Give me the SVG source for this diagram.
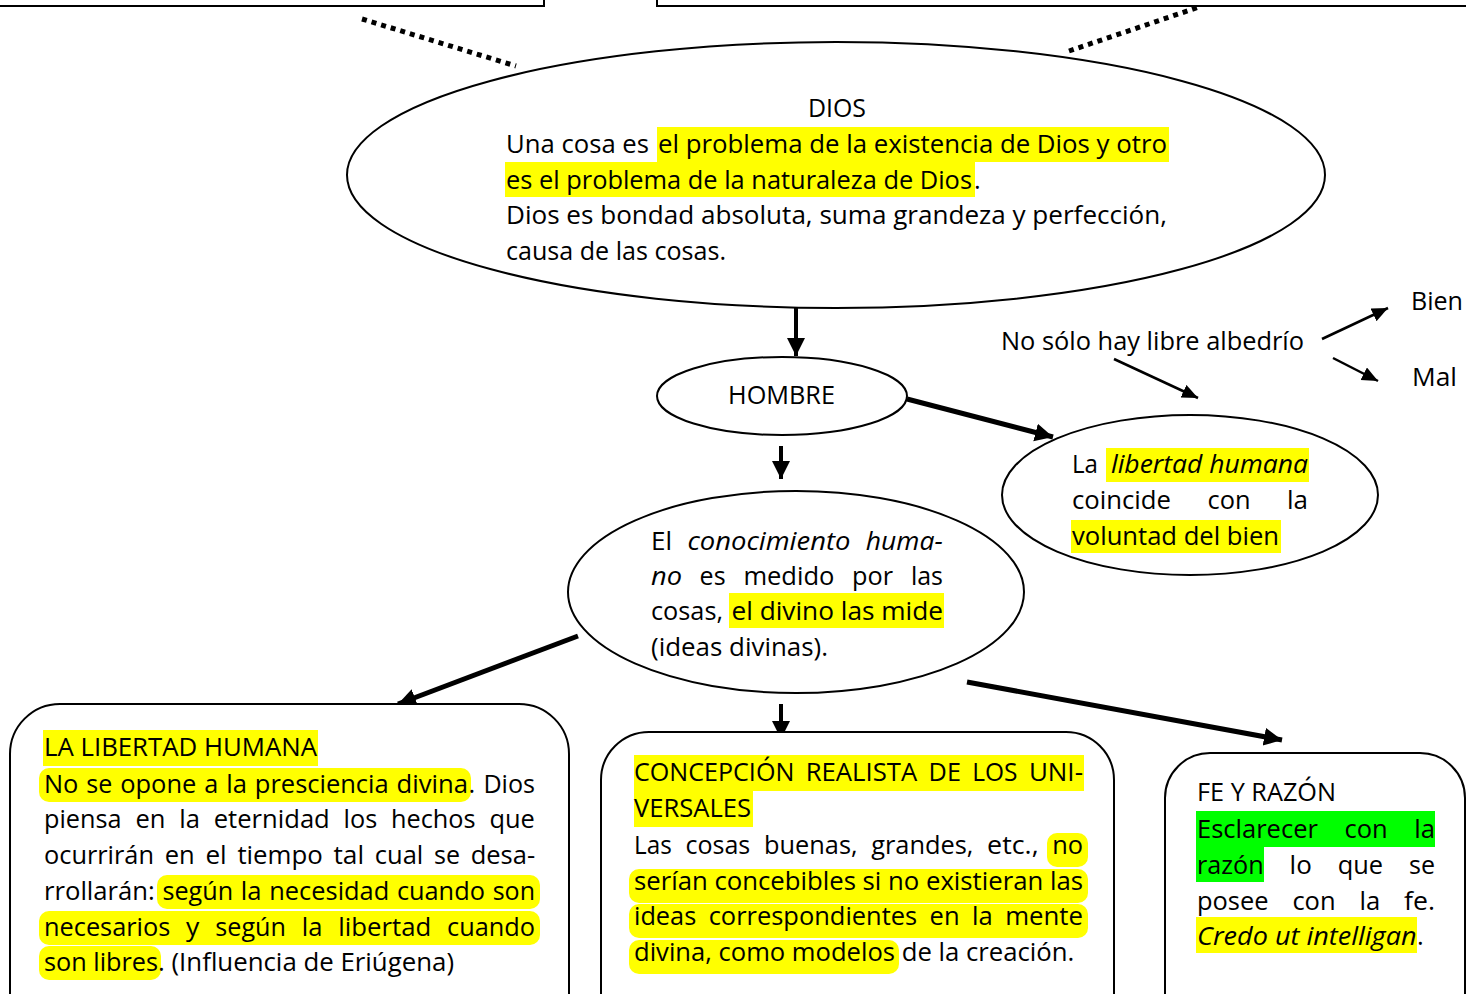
<svg xmlns="http://www.w3.org/2000/svg" width="1466" height="994" viewBox="0 0 1466 994">
<style>
.t{font-family:'Open Sans','Noto Sans',sans-serif;font-size:25.5px;fill:#000}
.i{font-style:italic}
.shape{fill:#fff;stroke:#000;stroke-width:2}
.hy{fill:#ffff00}
.hg{fill:#00ff00}
.thick{stroke:#000;stroke-width:5;fill:none}
.mid{stroke:#000;stroke-width:4;fill:none}
.thin{stroke:#000;stroke-width:2.5;fill:none}
.dots{stroke:#000;stroke-width:5;stroke-dasharray:5 5;fill:none}
</style>
<defs>
<marker id="ah" markerUnits="userSpaceOnUse" markerWidth="20" markerHeight="20" refX="18" refY="9" orient="auto"><path d="M0,0 L18,9 L0,18 z" fill="#000"/></marker>
<marker id="ahs" markerUnits="userSpaceOnUse" markerWidth="18" markerHeight="16" refX="16" refY="7" orient="auto"><path d="M0,0 L16,7 L0,14 z" fill="#000"/></marker>
</defs>
<rect width="1466" height="994" fill="#fff"/>

<g id="top-left-box"><rect class="shape" x="-5" y="-60" width="549" height="66"/></g>
<g id="top-right-box"><rect class="shape" x="657" y="-60" width="820" height="66"/></g>

<g id="connectors">
<line class="dots" x1="362" y1="19" x2="516" y2="66"/>
<line class="dots" x1="1069" y1="51" x2="1199" y2="7"/>
<line class="mid" x1="796" y1="308" x2="796" y2="356" marker-end="url(#ah)"/>
<line class="thick" x1="907" y1="399" x2="1053" y2="437" marker-end="url(#ah)"/>
<line class="mid" x1="781" y1="446" x2="781" y2="479" marker-end="url(#ah)"/>
<line class="thin" x1="1114" y1="359" x2="1198" y2="398" marker-end="url(#ahs)"/>
<line class="thin" x1="1322" y1="339" x2="1388" y2="308" marker-end="url(#ahs)"/>
<line class="thin" x1="1333" y1="358" x2="1378" y2="381" marker-end="url(#ahs)"/>
<line class="thick" x1="578" y1="636" x2="398" y2="704" marker-end="url(#ah)"/>
<line class="mid" x1="781" y1="704" x2="781" y2="739" marker-end="url(#ah)"/>
<line class="thick" x1="967" y1="682" x2="1282" y2="740" marker-end="url(#ah)"/>
</g>

<g id="dios">
<ellipse class="shape" cx="836" cy="175" rx="489" ry="133"/>
<rect class="hy" x="657" y="127" width="512" height="35"/>
<rect class="hy" x="505" y="162" width="470" height="35"/>
<text class="t" x="808" y="117" textLength="58" lengthAdjust="spacingAndGlyphs">DIOS</text>
<text class="t" x="506" y="153" textLength="143" lengthAdjust="spacingAndGlyphs">Una cosa es</text>
<text class="t" x="658" y="153" textLength="509" lengthAdjust="spacingAndGlyphs">el problema de la existencia de Dios y otro</text>
<text class="t" x="506" y="189" textLength="466" lengthAdjust="spacingAndGlyphs">es el problema de la naturaleza de Dios</text>
<text class="t" x="974" y="189">.</text>
<text class="t" x="506" y="224" textLength="661" lengthAdjust="spacingAndGlyphs">Dios es bondad absoluta, suma grandeza y perfección,</text>
<text class="t" x="506" y="260" textLength="220" lengthAdjust="spacingAndGlyphs">causa de las cosas.</text>
</g>

<g id="hombre">
<ellipse class="shape" cx="782" cy="396" rx="125" ry="39"/>
<text class="t" x="728" y="404" textLength="107" lengthAdjust="spacingAndGlyphs">HOMBRE</text>
</g>

<g id="albedrio">
<text class="t" x="1001" y="350" textLength="303" lengthAdjust="spacingAndGlyphs">No sólo hay libre albedrío</text>
</g>
<g id="bien"><text class="t" x="1411" y="310" textLength="52" lengthAdjust="spacingAndGlyphs">Bien</text></g>
<g id="mal"><text class="t" x="1412" y="386" textLength="45" lengthAdjust="spacingAndGlyphs">Mal</text></g>

<g id="libertad">
<ellipse class="shape" cx="1190" cy="495" rx="188" ry="80"/>
<rect class="hy" x="1106" y="448" width="203" height="34"/>
<rect class="hy" x="1071" y="520" width="210" height="33"/>
<text class="t" x="1072" y="473" textLength="26" lengthAdjust="spacingAndGlyphs">La</text>
<text class="t i" x="1111" y="473" textLength="197" lengthAdjust="spacingAndGlyphs">libertad humana</text>
<text class="t" x="1072" y="509" textLength="99" lengthAdjust="spacingAndGlyphs">coincide</text>
<text class="t" x="1207.5" y="509" textLength="43" lengthAdjust="spacingAndGlyphs">con</text>
<text class="t" x="1287" y="509" textLength="21" lengthAdjust="spacingAndGlyphs">la</text>
<text class="t" x="1072" y="545" textLength="207" lengthAdjust="spacingAndGlyphs">voluntad del bien</text>
</g>

<g id="conocimiento">
<ellipse class="shape" cx="796" cy="592" rx="228" ry="101"/>
<rect class="hy" x="729" y="593" width="215" height="35"/>
<text class="t" x="651" y="550" textLength="21" lengthAdjust="spacingAndGlyphs">El</text>
<text class="t i" x="687.4" y="550" textLength="163" lengthAdjust="spacingAndGlyphs">conocimiento</text>
<text class="t i" x="865.8" y="550" textLength="77" lengthAdjust="spacingAndGlyphs">huma-</text>
<text class="t i" x="651" y="585" textLength="31" lengthAdjust="spacingAndGlyphs">no</text>
<text class="t" x="699.6" y="585" textLength="26" lengthAdjust="spacingAndGlyphs">es</text>
<text class="t" x="743.4" y="585" textLength="91" lengthAdjust="spacingAndGlyphs">medido</text>
<text class="t" x="852.1" y="585" textLength="41" lengthAdjust="spacingAndGlyphs">por</text>
<text class="t" x="910.9" y="585" textLength="32" lengthAdjust="spacingAndGlyphs">las</text>
<text class="t" x="651" y="620" textLength="72" lengthAdjust="spacingAndGlyphs">cosas,</text>
<text class="t" x="731.5" y="620" textLength="211.5" lengthAdjust="spacingAndGlyphs">el divino las mide</text>
<text class="t" x="651" y="656" textLength="177" lengthAdjust="spacingAndGlyphs">(ideas divinas).</text>
</g>

<g id="box-libertad-humana">
<rect class="shape" x="10" y="704" width="559" height="340" rx="50"/>
<rect class="hy" x="43" y="730" width="275" height="36"/>
<rect class="hy" x="39" y="768" width="432" height="34" rx="10"/>
<rect class="hy" x="157" y="875" width="383" height="34" rx="10"/>
<rect class="hy" x="39" y="911" width="501" height="34" rx="10"/>
<rect class="hy" x="39" y="946" width="122" height="34" rx="10"/>
<text class="t" x="44" y="756" textLength="273" lengthAdjust="spacingAndGlyphs">LA LIBERTAD HUMANA</text>
<text class="t" x="44" y="793" textLength="34.4" lengthAdjust="spacingAndGlyphs">No</text>
<text class="t" x="86.3" y="793" textLength="26" lengthAdjust="spacingAndGlyphs">se</text>
<text class="t" x="120.2" y="793" textLength="76.2" lengthAdjust="spacingAndGlyphs">opone</text>
<text class="t" x="204.3" y="793" textLength="14" lengthAdjust="spacingAndGlyphs">a</text>
<text class="t" x="226.2" y="793" textLength="20.7" lengthAdjust="spacingAndGlyphs">la</text>
<text class="t" x="254.8" y="793" textLength="133.9" lengthAdjust="spacingAndGlyphs">presciencia</text>
<text class="t" x="396.6" y="793" textLength="71.5" lengthAdjust="spacingAndGlyphs">divina</text>
<text class="t" x="468.5" y="793">.</text>
<text class="t" x="483.4" y="793" textLength="51.6" lengthAdjust="spacingAndGlyphs">Dios</text>
<text class="t" x="44" y="828" textLength="77.6" lengthAdjust="spacingAndGlyphs">piensa</text>
<text class="t" x="135.4" y="828" textLength="30" lengthAdjust="spacingAndGlyphs">en</text>
<text class="t" x="179.2" y="828" textLength="20.7" lengthAdjust="spacingAndGlyphs">la</text>
<text class="t" x="213.7" y="828" textLength="116.1" lengthAdjust="spacingAndGlyphs">eternidad</text>
<text class="t" x="343.6" y="828" textLength="33.6" lengthAdjust="spacingAndGlyphs">los</text>
<text class="t" x="391" y="828" textLength="84.6" lengthAdjust="spacingAndGlyphs">hechos</text>
<text class="t" x="489.4" y="828" textLength="45.4" lengthAdjust="spacingAndGlyphs">que</text>
<text class="t" x="44" y="864" textLength="110" lengthAdjust="spacingAndGlyphs">ocurrirán</text>
<text class="t" x="164.7" y="864" textLength="30" lengthAdjust="spacingAndGlyphs">en</text>
<text class="t" x="205.4" y="864" textLength="21.3" lengthAdjust="spacingAndGlyphs">el</text>
<text class="t" x="237.4" y="864" textLength="85.4" lengthAdjust="spacingAndGlyphs">tiempo</text>
<text class="t" x="333.5" y="864" textLength="30.6" lengthAdjust="spacingAndGlyphs">tal</text>
<text class="t" x="374.8" y="864" textLength="48.5" lengthAdjust="spacingAndGlyphs">cual</text>
<text class="t" x="434" y="864" textLength="26" lengthAdjust="spacingAndGlyphs">se</text>
<text class="t" x="470.7" y="864" textLength="64.4" lengthAdjust="spacingAndGlyphs">desa-</text>
<text class="t" x="44" y="900" textLength="110.8" lengthAdjust="spacingAndGlyphs">rrollarán:</text>
<text class="t" x="162.5" y="900" textLength="70.6" lengthAdjust="spacingAndGlyphs">según</text>
<text class="t" x="240.8" y="900" textLength="20.7" lengthAdjust="spacingAndGlyphs">la</text>
<text class="t" x="269.3" y="900" textLength="119.9" lengthAdjust="spacingAndGlyphs">necesidad</text>
<text class="t" x="396.9" y="900" textLength="88" lengthAdjust="spacingAndGlyphs">cuando</text>
<text class="t" x="492.7" y="900" textLength="42.3" lengthAdjust="spacingAndGlyphs">son</text>
<text class="t" x="44" y="936" textLength="126.3" lengthAdjust="spacingAndGlyphs">necesarios</text>
<text class="t" x="186.1" y="936" textLength="13.3" lengthAdjust="spacingAndGlyphs">y</text>
<text class="t" x="215.3" y="936" textLength="70.6" lengthAdjust="spacingAndGlyphs">según</text>
<text class="t" x="301.7" y="936" textLength="20.7" lengthAdjust="spacingAndGlyphs">la</text>
<text class="t" x="338.3" y="936" textLength="92.9" lengthAdjust="spacingAndGlyphs">libertad</text>
<text class="t" x="447" y="936" textLength="88" lengthAdjust="spacingAndGlyphs">cuando</text>
<text class="t" x="44" y="971" textLength="114" lengthAdjust="spacingAndGlyphs">son libres</text>
<text class="t" x="158" y="971" textLength="296" lengthAdjust="spacingAndGlyphs">. (Influencia de Eriúgena)</text>
</g>

<g id="box-universales">
<rect class="shape" x="601" y="732" width="513" height="320" rx="48"/>
<rect class="hy" x="634" y="755" width="450" height="36"/>
<rect class="hy" x="634" y="791" width="119" height="36"/>
<rect class="hy" x="1047" y="833" width="41" height="34" rx="10"/>
<rect class="hy" x="629" y="869" width="459" height="34" rx="10"/>
<rect class="hy" x="629" y="904" width="459" height="34" rx="10"/>
<rect class="hy" x="629" y="940" width="270" height="34" rx="10"/>
<text class="t" x="634" y="781" textLength="160.3" lengthAdjust="spacingAndGlyphs">CONCEPCIÓN</text>
<text class="t" x="805.7" y="781" textLength="111.5" lengthAdjust="spacingAndGlyphs">REALISTA</text>
<text class="t" x="928.6" y="781" textLength="32.3" lengthAdjust="spacingAndGlyphs">DE</text>
<text class="t" x="972.3" y="781" textLength="45.2" lengthAdjust="spacingAndGlyphs">LOS</text>
<text class="t" x="1028.9" y="781" textLength="54.1" lengthAdjust="spacingAndGlyphs">UNI-</text>
<text class="t" x="634" y="817" textLength="117" lengthAdjust="spacingAndGlyphs">VERSALES</text>
<text class="t" x="634" y="854" textLength="37.8" lengthAdjust="spacingAndGlyphs">Las</text>
<text class="t" x="685.5" y="854" textLength="64.8" lengthAdjust="spacingAndGlyphs">cosas</text>
<text class="t" x="764" y="854" textLength="93.6" lengthAdjust="spacingAndGlyphs">buenas,</text>
<text class="t" x="871.2" y="854" textLength="102.2" lengthAdjust="spacingAndGlyphs">grandes,</text>
<text class="t" x="987.1" y="854" textLength="51.5" lengthAdjust="spacingAndGlyphs">etc.,</text>
<text class="t" x="1052.2" y="854" textLength="30.8" lengthAdjust="spacingAndGlyphs">no</text>
<text class="t" x="634" y="890" textLength="449" lengthAdjust="spacingAndGlyphs">serían concebibles si no existieran las</text>
<text class="t" x="634" y="925" textLength="62.2" lengthAdjust="spacingAndGlyphs">ideas</text>
<text class="t" x="708.7" y="925" textLength="208.5" lengthAdjust="spacingAndGlyphs">correspondientes</text>
<text class="t" x="929.6" y="925" textLength="30" lengthAdjust="spacingAndGlyphs">en</text>
<text class="t" x="972.1" y="925" textLength="20.7" lengthAdjust="spacingAndGlyphs">la</text>
<text class="t" x="1005.2" y="925" textLength="77.8" lengthAdjust="spacingAndGlyphs">mente</text>
<text class="t" x="634" y="961" textLength="261" lengthAdjust="spacingAndGlyphs">divina, como modelos</text>
<text class="t" x="901.8" y="961" textLength="172.5" lengthAdjust="spacingAndGlyphs">de la creación.</text>
</g>

<g id="box-fe-razon">
<rect class="shape" x="1165" y="753" width="300" height="300" rx="45"/>
<rect class="hg" x="1196" y="811" width="239" height="36"/>
<rect class="hg" x="1196" y="847" width="68" height="35"/>
<rect class="hy" x="1196" y="917" width="221" height="36"/>
<text class="t" x="1197" y="801" textLength="139" lengthAdjust="spacingAndGlyphs">FE Y RAZÓN</text>
<text class="t" x="1197" y="838" textLength="120.9" lengthAdjust="spacingAndGlyphs">Esclarecer</text>
<text class="t" x="1344.5" y="838" textLength="43.2" lengthAdjust="spacingAndGlyphs">con</text>
<text class="t" x="1414.3" y="838" textLength="20.7" lengthAdjust="spacingAndGlyphs">la</text>
<text class="t" x="1197" y="874" textLength="66.7" lengthAdjust="spacingAndGlyphs">razón</text>
<text class="t" x="1289.6" y="874" textLength="22.2" lengthAdjust="spacingAndGlyphs">lo</text>
<text class="t" x="1337.7" y="874" textLength="45.4" lengthAdjust="spacingAndGlyphs">que</text>
<text class="t" x="1409" y="874" textLength="26" lengthAdjust="spacingAndGlyphs">se</text>
<text class="t" x="1197" y="910" textLength="71.5" lengthAdjust="spacingAndGlyphs">posee</text>
<text class="t" x="1292.4" y="910" textLength="43.2" lengthAdjust="spacingAndGlyphs">con</text>
<text class="t" x="1359.5" y="910" textLength="20.7" lengthAdjust="spacingAndGlyphs">la</text>
<text class="t" x="1404.1" y="910" textLength="30.9" lengthAdjust="spacingAndGlyphs">fe.</text>
<text class="t i" x="1197" y="945" textLength="219.5" lengthAdjust="spacingAndGlyphs">Credo ut intelligan</text>
<text class="t" x="1417" y="945">.</text>
</g>
</svg>
